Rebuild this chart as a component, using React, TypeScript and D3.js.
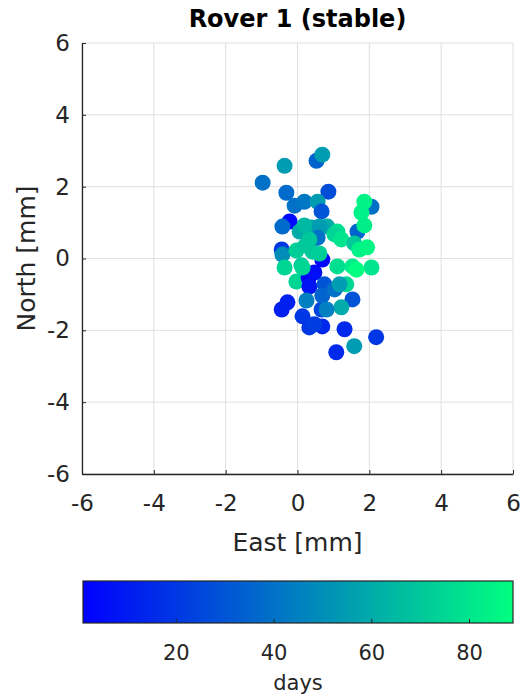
import { useEffect, useRef } from 'react'
import * as d3 from 'd3'

// displacement of each epoch, mm
const east = [
  0.53, 0.69, -0.36, -0.97, -0.31, -0.08, 0.19, -0.22, -0.42, 0.39,
  0.86, 0.56, 0.67, 2.06, 1.86, 1.78, 1.67, 1.86, 0.83, 1.11,
  0.61, 1.03, 1.22, 1.58, 1.72, 1.94, -0.44, -0.42, -0.36, -0.03,
  0.11, 0.42, -0.03, 0.31, 0.33, 0.25, 0.69, 0.47, 1.11, 1.53,
  1.36, 0.75, 1.53, 1.22, 0.67, 0.69, 1.31, 2.19, 1.58, 1.08,
  -0.28, -0.44, 0.14, 0.33, 0.47, 2.06, 1.64, 0.61, 0.22, 0.14,
  0.69, 1.03, 0.56, 0.06, 0.81, 1.17, 0.33, 0.19,
]
const north = [
  2.72, 2.89, 2.58, 2.11, 1.83, 1.47, 1.58, 1.03, 0.89, 0.86,
  1.86, 1.58, 1.31, 1.44, 1.58, 1.28, 0.75, 0.92, 0.89, 0.75,
  0.89, 0.67, 0.53, 0.42, 0.25, 0.31, 0.25, 0.11, -0.25, 0.22,
  -0.19, 0.19, -0.64, -0.53, -0.78, -1.17, -0.03, -0.39, -0.22, -0.22,
  -0.72, -0.72, -1.14, -1.36, -1.42, -1.89, -1.97, -2.19, -2.44, -2.61,
  -1.22, -1.42, -1.61, -1.92, -1.83, -0.25, -0.31, 0.14, 0.36, -0.25,
  -1.03, -0.86, 0.58, 0.75, -1.42, -0.72, 0.53, 0.92,
]
const days = [
  35, 55, 55, 40, 38, 40, 42, 4, 38, 60,
  28, 55, 30, 40, 85, 84, 35, 83, 60, 78,
  55, 75, 80, 70, 84, 86, 20, 50, 75, 72,
  70, 70, 75, 1, 8, 45, 3, 6, 78, 82,
  75, 30, 30, 60, 25, 15, 15, 20, 55, 15,
  12, 12, 20, 20, 22, 80, 89, 72, 70, 75,
  35, 40, 40, 60, 45, 55, 70, 65,
]

const axisTicks = [-6, -4, -2, 0, 2, 4, 6]
const dayRange = [1, 89]
const dayTicks = [20, 40, 60, 80]

const FONT = 'DejaVu Sans, Liberation Sans, sans-serif'
const INK = '#262626'
const GRID = '#dfdfdf'

export default function App() {
  const svgRef = useRef<SVGSVGElement>(null)

  useEffect(() => {
    if (!svgRef.current) return
    const svg = d3.select(svgRef.current)
    svg.selectAll('*').remove()

    const plot = { left: 82, top: 43, size: 431 }
    const x = d3.scaleLinear().domain([-6, 6]).range([plot.left, plot.left + plot.size])
    const y = d3.scaleLinear().domain([-6, 6]).range([plot.top + plot.size, plot.top])
    const winter = d3.interpolateRgb('rgb(0,0,255)', 'rgb(0,255,128)')
    const color = d3.scaleSequential(winter).domain(dayRange)

    // Grid
    const grid = svg.append('g')
    grid.selectAll('.gx').data(axisTicks).join('line')
      .attr('x1', d => x(d)).attr('x2', d => x(d))
      .attr('y1', plot.top).attr('y2', plot.top + plot.size)
      .attr('stroke', GRID).attr('stroke-width', 1)
    grid.selectAll('.gy').data(axisTicks).join('line')
      .attr('y1', d => y(d)).attr('y2', d => y(d))
      .attr('x1', plot.left).attr('x2', plot.left + plot.size)
      .attr('stroke', GRID).attr('stroke-width', 1)

    // Points
    const pts = east.map((e, i) => ({ e, n: north[i], d: days[i] }))
    svg.append('g').selectAll('circle').data(pts).join('circle')
      .attr('cx', d => x(d.e)).attr('cy', d => y(d.n))
      .attr('r', 8)
      .attr('fill', d => color(d.d))

    // Axes
    const styleAxis = (g: any) => {
      g.select('.domain').attr('stroke', INK).attr('stroke-width', 1.3)
      g.selectAll('.tick line').attr('stroke', INK)
      g.selectAll('.tick text').attr('fill', INK).attr('font-size', '23px').attr('font-family', FONT)
    }
    svg.append('g')
      .attr('transform', `translate(0,${plot.top + plot.size})`)
      .call(d3.axisBottom(x).tickValues(axisTicks).tickSizeInner(-4).tickSizeOuter(0).tickPadding(21).tickFormat(d3.format('d')))
      .call(styleAxis)
    svg.append('g')
      .attr('transform', `translate(${plot.left},0)`)
      .call(d3.axisLeft(y).tickValues(axisTicks).tickSizeInner(-4).tickSizeOuter(0).tickPadding(12).tickFormat(d3.format('d')))
      .call(styleAxis)
    svg.selectAll('.tick text').text(function () { return (this as SVGTextElement).textContent!.replace('−', '-') })

    // Labels
    svg.append('text')
      .attr('x', x(0)).attr('y', 27)
      .attr('text-anchor', 'middle')
      .attr('font-family', FONT).attr('font-weight', 'bold').attr('font-size', '24px')
      .attr('fill', '#000')
      .text('Rover 1 (stable)')
    svg.append('text')
      .attr('x', x(0)).attr('y', 551)
      .attr('text-anchor', 'middle')
      .attr('font-family', FONT).attr('font-size', '25px')
      .attr('fill', INK)
      .text('East [mm]')
    svg.append('text')
      .attr('transform', `translate(35,${y(0)}) rotate(-90)`)
      .attr('text-anchor', 'middle')
      .attr('font-family', FONT).attr('font-size', '25px')
      .attr('fill', INK)
      .text('North [mm]')

    // Colorbar
    const cb = { left: 83, top: 581, width: 430, height: 42 }
    const cx = d3.scaleLinear().domain(dayRange).range([cb.left, cb.left + cb.width])
    const grad = svg.append('defs').append('linearGradient').attr('id', 'winter')
    d3.range(0, 1.0001, 0.1).forEach(t => {
      grad.append('stop').attr('offset', `${t * 100}%`).attr('stop-color', winter(t))
    })
    svg.append('rect')
      .attr('x', cb.left).attr('y', cb.top)
      .attr('width', cb.width).attr('height', cb.height)
      .attr('fill', 'url(#winter)')
      .attr('stroke', INK).attr('stroke-width', 1.2)
    svg.append('g')
      .attr('transform', `translate(0,${cb.top + cb.height})`)
      .call(d3.axisBottom(cx).tickValues(dayTicks).tickSizeInner(-4).tickSizeOuter(0).tickPadding(22))
      .call((g: any) => {
        g.select('.domain').remove()
        g.selectAll('.tick line').attr('stroke', INK)
        g.selectAll('.tick text').attr('fill', INK).attr('font-size', '21px').attr('font-family', FONT)
      })
    svg.append('text')
      .attr('x', cb.left + cb.width / 2).attr('y', 690)
      .attr('text-anchor', 'middle')
      .attr('font-family', FONT).attr('font-size', '21px')
      .attr('fill', INK)
      .text('days')
  }, [])

  return (
    <div style={{ position: 'absolute', left: 0, top: 0 }}>
      <svg ref={svgRef} width={524} height={698} style={{ display: 'block', background: '#fff' }} />
    </div>
  )
}
